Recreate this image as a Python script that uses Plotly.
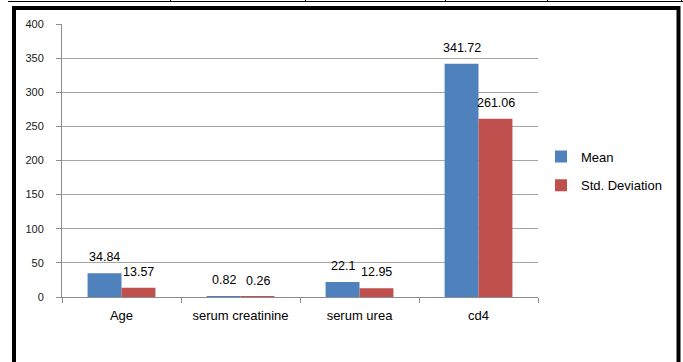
import plotly.graph_objects as go

categories = ["Age", "serum creatinine", "serum urea", "cd4"]
mean_values = [34.84, 0.82, 22.1, 341.72]
sd_values = [13.57, 0.26, 12.95, 261.06]
series_names = ["Mean", "Std. Deviation"]
y_ticks = [0, 50, 100, 150, 200, 250, 300, 350, 400]

BLUE = "#4F81BD"
RED = "#C0504D"
FONT = "Liberation Sans"

W, H = 683, 362
L, R, T, B = 62, 145, 24, 65
PW, PH = W - L - R, H - T - B


def px_x(px):
    return (px - L) / PW


def px_y(py):
    return (H - B - py) / PH


fig = go.Figure()
fig.add_trace(go.Bar(x=categories, y=mean_values, name=series_names[0],
                     marker=dict(color=BLUE, line=dict(width=0)), legendgroup="a"))
fig.add_trace(go.Bar(x=categories, y=sd_values, name=series_names[1],
                     marker=dict(color=RED, line=dict(width=0)), legendgroup="b"))

annotations = []
for vals, shift in ((mean_values, -17), (sd_values, 17)):
    for c, v in zip(categories, vals):
        annotations.append(dict(x=c, y=v, xref="x", yref="y", text=str(v),
                                showarrow=False, xshift=shift, yshift=16,
                                yanchor="middle", xanchor="center",
                                font=dict(family=FONT, size=12.5, color="#000000")))

shapes = [
    # outer black frame
    dict(type="rect", xref="paper", yref="paper",
         x0=px_x(14), x1=px_x(678.5), y0=px_y(375), y1=px_y(8),
         line=dict(color="#000000", width=4), layer="above"),
    # table line at the very top
    dict(type="line", xref="paper", yref="paper",
         x0=px_x(8), x1=px_x(683), y0=px_y(1.5), y1=px_y(1.5),
         line=dict(color="#000000", width=1)),
]
for xv in (170, 305, 445, 547, 681):
    shapes.append(dict(type="line", xref="paper", yref="paper",
                       x0=px_x(xv + 0.5), x1=px_x(xv + 0.5), y0=px_y(0), y1=px_y(2),
                       line=dict(color="#000000", width=1)))

fig.update_layout(
    width=W, height=H,
    margin=dict(l=L, r=R, t=T, b=B, pad=0),
    paper_bgcolor="white", plot_bgcolor="white",
    barmode="group", bargap=0.43, bargroupgap=0,
    font=dict(family=FONT, size=13, color="#000000"),
    showlegend=True,
    legend=dict(x=px_x(541), y=px_y(171), xanchor="left", yanchor="middle",
                font=dict(family=FONT, size=13, color="#000000"),
                tracegroupgap=9, traceorder="grouped",
                bgcolor="rgba(0,0,0,0)", borderwidth=0),
    xaxis=dict(type="category", showgrid=False, showline=True, linecolor="#8c8c8c",
               linewidth=1, ticks="outside", tickson="boundaries", ticklen=5,
               tickcolor="#8c8c8c", ticklabelstandoff=6,
               tickfont=dict(family=FONT, size=13, color="#000000"), fixedrange=True),
    yaxis=dict(range=[0, 400], tickvals=y_ticks, showgrid=True, gridcolor="#a6a6a6",
               gridwidth=1, showline=True, linecolor="#8c8c8c", linewidth=1,
               ticks="outside", ticklen=5, tickcolor="#8c8c8c", zeroline=False,
               ticklabelstandoff=10,
               tickfont=dict(family=FONT, size=11, color="#1a1a1a"), fixedrange=True),
    annotations=annotations,
    shapes=shapes,
)

fig.write_html("out.html")
